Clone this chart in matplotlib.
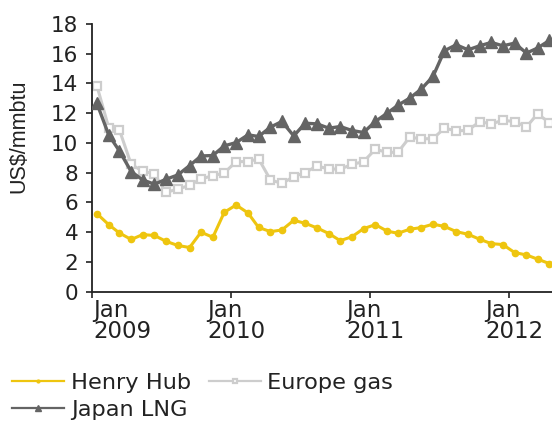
import datetime as dt
import matplotlib
matplotlib.use("Agg")
import matplotlib.pyplot as plt
import matplotlib.transforms as mtransforms
from matplotlib.font_manager import FontProperties
import pandas as pd

# monthly averages, Jan 2009 .. Apr 2012 (US$/mmbtu)
months = pd.date_range("2009-01-01", periods=40, freq="MS") + pd.Timedelta(days=14)

henry_hub = [5.24, 4.50, 3.94, 3.50, 3.83, 3.77, 3.38, 3.10, 2.96, 3.99,
             3.65, 5.33, 5.82, 5.29, 4.31, 4.03, 4.14, 4.79, 4.59, 4.28,
             3.90, 3.42, 3.69, 4.23, 4.50, 4.06, 3.92, 4.19, 4.30, 4.53,
             4.38, 4.03, 3.85, 3.52, 3.22, 3.16, 2.62, 2.46, 2.18, 1.88]

europe_gas = [13.85, 11.03, 10.88, 8.55, 8.10, 7.91, 6.67, 6.89, 7.14, 7.58,
              7.79, 7.98, 8.74, 8.74, 8.93, 7.51, 7.27, 7.73, 8.00, 8.45,
              8.24, 8.24, 8.55, 8.74, 9.57, 9.36, 9.37, 10.38, 10.28, 10.28,
              10.99, 10.81, 10.84, 11.43, 11.28, 11.52, 11.43, 11.08, 11.95, 11.37]

japan_lng = [12.67, 10.54, 9.46, 8.07, 7.51, 7.22, 7.55, 7.84, 8.47, 9.12,
             9.15, 9.80, 10.02, 10.54, 10.43, 11.06, 11.44, 10.47, 11.32, 11.28,
             10.99, 11.10, 10.83, 10.70, 11.44, 12.00, 12.53, 13.01, 13.61, 14.47,
             16.20, 16.60, 16.26, 16.53, 16.76, 16.53, 16.71, 16.04, 16.38, 16.89]

tick_dates = [dt.datetime(2009, 1, 1), dt.datetime(2010, 1, 1),
              dt.datetime(2011, 1, 1), dt.datetime(2012, 1, 1)]
tick_labels = ["Jan\n2009", "Jan\n2010", "Jan\n2011", "Jan\n2012"]

YELLOW = "#EEC50F"
LIGHT = "#CDCDCD"
DARK = "#646464"
INK = "#222222"

fig = plt.figure(figsize=(5.52, 4.26), dpi=100)
ax = fig.add_axes([0.1658, 0.3157, 0.8342, 0.628])

l_eu, = ax.plot(months, europe_gas, color=LIGHT, lw=2.2, marker="s", ms=6,
                mfc="white", mec=LIGHT, mew=1.6, zorder=2, label="Europe gas")
l_jp, = ax.plot(months, japan_lng, color=DARK, lw=2.4, marker="^", ms=9,
                mfc=DARK, mec=DARK, zorder=3, label="Japan LNG")
l_hh, = ax.plot(months, henry_hub, color=YELLOW, lw=2.2, marker="o", ms=4.5,
                mfc=YELLOW, mec=YELLOW, zorder=4, label="Henry Hub")

ax.set_ylim(0, 18)
ax.set_yticks(range(0, 19, 2))
ax.set_xlim(dt.datetime(2009, 1, 1), dt.datetime(2012, 4, 22))
ax.set_xticks(tick_dates)
ax.set_xticklabels(tick_labels, ha="left", multialignment="left", linespacing=0.9)

for side in ("top", "right"):
    ax.spines[side].set_visible(False)
for side in ("left", "bottom"):
    ax.spines[side].set_linewidth(1.3)
    ax.spines[side].set_color(INK)

ax.tick_params(axis="y", direction="out", length=4.5, width=1.2, pad=5,
               labelsize=15.5, colors=INK)
ax.tick_params(axis="x", direction="out", length=4.5, width=1.2, pad=1,
               labelsize=16.5, colors=INK)

# shift the stacked date labels so they sit a bit left of each tick
for i, lab in enumerate(ax.get_xticklabels()):
    dx = 1.5 if i == 0 else -17
    lab.set_transform(lab.get_transform() +
                      mtransforms.ScaledTranslation(dx / 72, 0, fig.dpi_scale_trans))

ylab_font = FontProperties(family="Liberation Sans", size=15.5)
ax.set_ylabel("US$/mmbtu", fontproperties=ylab_font, color=INK)
ax.yaxis.set_label_coords(-0.135, 0.58)

leg = fig.legend([l_hh, l_jp, l_eu], ["Henry Hub", "Japan LNG", "Europe gas"],
                 ncol=2, loc="upper left", bbox_to_anchor=(0.022, 0.125),
                 frameon=False, fontsize=16.2, markerscale=0.45, handlelength=2.3,
                 handletextpad=0.3, columnspacing=0.8, labelspacing=0.33,
                 borderpad=0, borderaxespad=0)
for line in leg.get_lines():
    line.set_linewidth(1.6)
for txt in leg.get_texts():
    txt.set_color(INK)

fig.savefig("out.png", dpi=100)
